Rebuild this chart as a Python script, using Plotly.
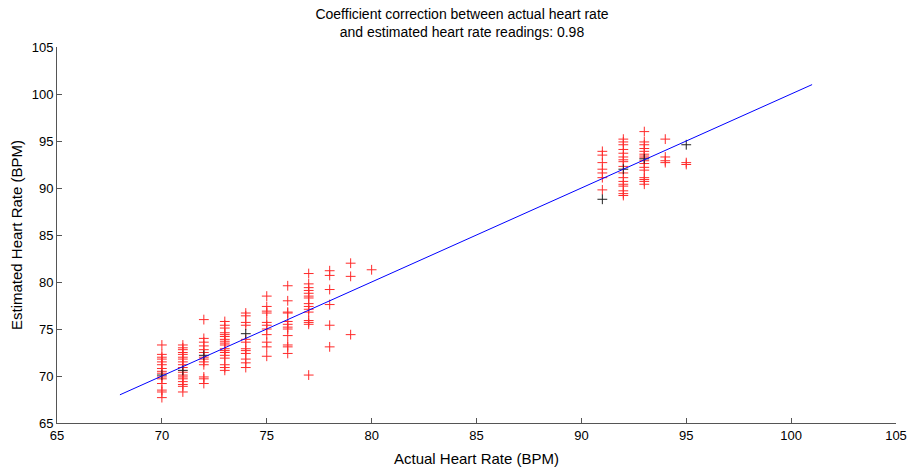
import plotly.graph_objects as go

# Actual heart rate columns and estimated readings (red markers)
actual_70 = [73.3, 72.3, 72.0, 71.8, 71.5, 71.2, 70.8, 70.5, 70.3, 69.9, 69.7, 69.2, 68.5, 68.3, 67.7]
actual_71 = [73.3, 73.0, 72.8, 72.5, 72.3, 72.0, 71.8, 71.5, 71.2, 70.9, 70.4, 70.1, 69.9, 69.7, 69.4, 69.1, 68.9, 68.3]
actual_72 = [76.0, 74.0, 73.6, 73.2, 72.8, 72.5, 72.0, 71.8, 71.5, 71.2, 69.9, 69.7, 69.2]
actual_73 = [75.8, 75.4, 75.1, 74.6, 74.4, 74.2, 73.9, 73.7, 73.5, 73.3, 72.9, 72.7, 72.5, 72.2, 71.9, 71.2, 70.9, 70.6]
actual_74 = [76.7, 76.4, 75.7, 75.4, 73.9, 73.6, 72.9, 72.7, 72.4, 71.8, 71.4, 70.9]
actual_75 = [78.5, 77.4, 76.9, 76.7, 75.7, 75.4, 75.0, 74.4, 73.6, 73.1, 72.1]
actual_76 = [79.6, 78.0, 76.8, 76.7, 75.8, 75.5, 75.2, 75.0, 74.3, 73.3, 73.1, 72.4]
actual_77 = [80.9, 79.8, 79.4, 79.1, 78.8, 78.5, 78.3, 77.7, 77.4, 77.1, 76.8, 75.9, 75.7, 75.5, 70.1]
actual_78 = [81.2, 80.7, 79.2, 77.6, 75.4, 73.1]
actual_79 = [82.0, 80.6, 74.4]
actual_80 = [81.3]
actual_91 = [93.9, 93.5, 92.7, 92.0, 91.6, 91.1, 89.8]
actual_92 = [95.2, 94.9, 94.6, 94.1, 93.7, 93.3, 93.0, 92.8, 92.3, 91.6, 91.1, 90.7, 90.4, 90.2, 89.7, 89.4, 89.2]
actual_93 = [96.0, 94.9, 94.6, 94.2, 93.9, 93.6, 93.4, 93.2, 92.9, 92.6, 92.2, 91.9, 91.1, 90.9, 90.7, 90.4]
actual_94 = [95.2, 93.3, 92.9, 92.7]
actual_95 = [92.7, 92.5]

columns = {70: actual_70, 71: actual_71, 72: actual_72, 73: actual_73, 74: actual_74,
           75: actual_75, 76: actual_76, 77: actual_77, 78: actual_78, 79: actual_79,
           80: actual_80, 91: actual_91, 92: actual_92, 93: actual_93, 94: actual_94,
           95: actual_95}

# Readings drawn in black
black_actual = [70, 71, 72, 74, 91, 92, 93, 95]
black_estimated = [70.1, 70.6, 72.2, 74.5, 88.8, 92.0, 93.1, 94.6]

# Fitted line endpoints
line_x = [68, 101]
line_y = [68, 101]

x_ticks = [65, 70, 75, 80, 85, 90, 95, 100, 105]
y_ticks = [65, 70, 75, 80, 85, 90, 95, 100, 105]

red_x, red_y = [], []
for k, vals in columns.items():
    red_x += [k] * len(vals)
    red_y += vals

fig = go.Figure()
fig.add_trace(go.Scatter(
    x=red_x, y=red_y, mode="markers",
    marker=dict(symbol="cross-thin", size=7, line=dict(color="#ff2a2a", width=1)),
    showlegend=False, hoverinfo="x+y"))
fig.add_trace(go.Scatter(
    x=black_actual, y=black_estimated, mode="markers",
    marker=dict(symbol="cross-thin", size=7, line=dict(color="#202020", width=1)),
    showlegend=False))
fig.add_trace(go.Scatter(
    x=line_x, y=line_y, mode="lines",
    line=dict(color="#0000ff", width=1), showlegend=False))

font_family = "Liberation Sans, Arial, sans-serif"
fig.update_layout(
    width=907, height=469,
    margin=dict(l=57, r=11, t=47, b=46, autoexpand=False),
    paper_bgcolor="white", plot_bgcolor="white",
    font=dict(family=font_family, size=13, color="#000000"),
    title=dict(text="Coefficient correction between actual heart rate<br>and estimated heart rate readings: 0.98",
               x=462 / 907, xref="container", xanchor="center",
               y=1 - 19 / 469, yref="container", yanchor="top",
               font=dict(size=14, family=font_family), automargin=False),
)
fig.update_xaxes(
    range=[65, 105], tickvals=x_ticks, ticktext=[str(v) for v in x_ticks],
    showline=True, linecolor="#555555", linewidth=1, mirror=False,
    ticks="inside", ticklen=5, tickcolor="#555555", showgrid=False, zeroline=False,
    automargin=False, ticklabeloverflow="allow",
    title=dict(text="Actual Heart Rate (BPM)", font=dict(size=15), standoff=11),
    tickfont=dict(size=13))
fig.update_yaxes(
    range=[65, 105], tickvals=y_ticks, ticktext=[str(v) for v in y_ticks],
    showline=True, linecolor="#555555", linewidth=1, mirror=False,
    ticks="inside", ticklen=5, tickcolor="#555555", showgrid=False, zeroline=False,
    automargin=False, ticklabeloverflow="allow",
    title=dict(text="Estimated Heart Rate (BPM)", font=dict(size=15), standoff=5),
    tickfont=dict(size=13))

fig.write_html("out.html", config={"displayModeBar": False},
               post_script="document.body.style.margin='0';document.body.style.padding='0';")
